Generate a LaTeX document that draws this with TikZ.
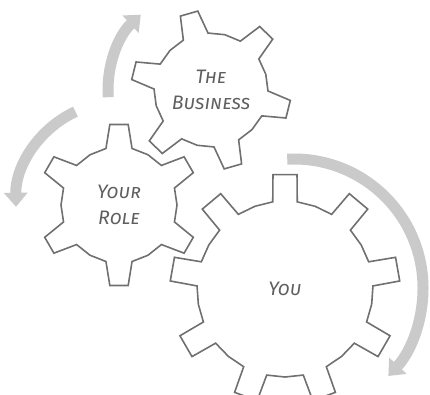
\documentclass[tikz,border=0pt]{standalone}
\usepackage{fontspec}
\setmainfont{Fira Sans}
\usetikzlibrary{arrows.meta}
\definecolor{gearline}{RGB}{112,112,112}
\definecolor{arrowfill}{RGB}{202,202,202}
\definecolor{labeltext}{RGB}{95,95,95}
\tikzset{
  gearedge/.style={draw=gearline, line width=1.6pt, line join=miter},
  gearlabel/.style={text=labeltext, font=\fontsize{19.5}{26}\selectfont\itshape\scshape, align=center},
  spinarrow/.style={draw=arrowfill, line width=11pt, -{Triangle[length=14pt,width=23pt]}}
}
% #1 centre, #2 teeth, #3 inner r, #4 outer r, #5 offset, #6 half base, #7 half top
\newcommand{\gearoutline}[7]{%
  \draw[gearedge] ([shift={(#5+180/#2:#3)}]#1)
    \foreach \i [evaluate=\i as \a using {#5+\i*360/#2}] in {1,...,#2} {
      -- ([shift={(\a-#6:#3)}]#1) -- ([shift={(\a-#7:#4)}]#1)
      -- ([shift={(\a+#7:#4)}]#1) -- ([shift={(\a+#6:#3)}]#1)
      -- ([shift={(\a+180/#2:#3)}]#1)
    } -- cycle;}

\begin{document}
\begin{tikzpicture}[x=1pt, y=1pt]
  \useasboundingbox (0,0) rectangle (430,-395);

  \node[gearlabel] (business) at (211,-90) {The\\Business};
  \node[gearlabel] (role) at (119,-205) {Your\\Role};
  \node[gearlabel] (you) at (285,-289) {You};
  \coordinate (youaxis) at ([xshift=9pt, yshift=1pt]you.center);

  \gearoutline{business.center}{6}{57}{80}{106}{13}{6.5}
  \gearoutline{role.center}{6}{58}{81}{90}{13}{6.5}
  \gearoutline{you.center}{9}{88}{115}{90}{8}{6}

  \draw[spinarrow] ([shift={(184:103)}]business.center) arc[start angle=184, end angle=133, radius=103];
  \draw[spinarrow] ([shift={(115:103)}]role.center) arc[start angle=115, end angle=181, radius=103];
  \draw[spinarrow] ([shift={(93:129)}]youaxis) arc[start angle=93, end angle=-43, radius=129];
\end{tikzpicture}
\end{document}
